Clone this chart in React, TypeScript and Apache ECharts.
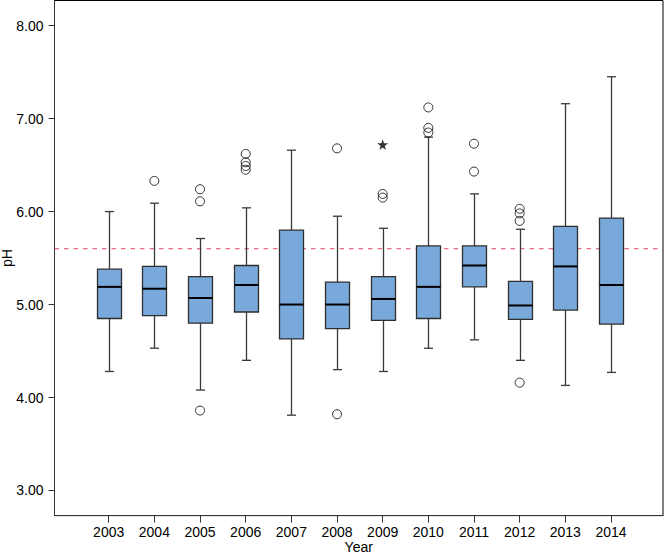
import React, { useEffect, useRef } from "react";
import * as echarts from "echarts";

// ---- data ----
const years = [2003, 2004, 2005, 2006, 2007, 2008, 2009, 2010, 2011, 2012, 2013, 2014];
const mins = [4.28, 4.53, 4.08, 4.40, 3.81, 4.30, 4.28, 4.53, 4.62, 4.40, 4.13, 4.27];
const q1s = [4.85, 4.88, 4.80, 4.92, 4.63, 4.74, 4.83, 4.85, 5.19, 4.84, 4.94, 4.79];
const medians = [5.19, 5.17, 5.07, 5.21, 5.00, 5.00, 5.06, 5.19, 5.42, 4.99, 5.41, 5.21];
const q3s = [5.38, 5.41, 5.30, 5.42, 5.80, 5.24, 5.30, 5.63, 5.63, 5.25, 5.84, 5.93];
const maxs = [6.00, 6.09, 5.71, 6.04, 6.66, 5.95, 5.82, 6.80, 6.19, 5.81, 7.16, 7.45];
const outliers: [number, number][] = [
  [2004, 6.33],
  [2005, 6.24], [2005, 6.11], [2005, 3.86],
  [2006, 6.62], [2006, 6.53], [2006, 6.49], [2006, 6.45],
  [2008, 6.68], [2008, 3.82],
  [2009, 6.19], [2009, 6.15],
  [2010, 7.12], [2010, 6.90], [2010, 6.85],
  [2011, 6.73], [2011, 6.43],
  [2012, 6.03], [2012, 5.98], [2012, 5.90], [2012, 4.16],
];
const extremes: [number, number][] = [[2009, 6.72]];
const referenceLevel = 5.6;
const yTicks = [3, 4, 5, 6, 7, 8];
const X_MIN = 2001.813;
const X_MAX = 2015.139;

const STAR = "path://M50,0 L61,35 L98,35 L68,57 L79,91 L50,70 L21,91 L32,57 L2,35 L39,35 Z";

export default function App() {
  const ref = useRef<HTMLDivElement>(null);
  useEffect(() => {
    document.body.style.margin = "0";
    const chart = echarts.init(ref.current!, null, { renderer: "svg" });
    const boxData = years.map((y, i) => [y, mins[i], q1s[i], medians[i], q3s[i], maxs[i]]);
    const font = "Liberation Sans";
    chart.setOption({
      animation: false,
      textStyle: { fontFamily: font, color: "#000" },
      grid: {
        left: 54.5,
        right: 1,
        top: 0.5,
        bottom: 42.4,
        containLabel: false,
        outerBoundsMode: "none",
        show: true,
        borderColor: "#000",
        borderWidth: 1,
        backgroundColor: "#fff",
      },
      xAxis: {
        type: "value",
        min: X_MIN,
        max: X_MAX,
        name: "Year",
        nameLocation: "middle",
        nameGap: 24,
        nameMoveOverlap: false,
        nameTextStyle: { fontSize: 14, color: "#000", fontFamily: font },
        splitLine: { show: false },
        axisLine: { show: true, lineStyle: { color: "#333", width: 1 } },
        axisTick: { show: true, length: 7, customValues: years, lineStyle: { color: "#333" } },
        axisLabel: {
          customValues: years,
          formatter: (v: number) => String(v),
          fontSize: 14,
          color: "#000",
          margin: 9,
          fontFamily: font,
        },
      },
      yAxis: {
        type: "value",
        min: 2.73,
        max: 8.27,
        name: "pH",
        nameLocation: "middle",
        nameGap: 41,
        nameMoveOverlap: false,
        nameRotate: 90,
        nameTextStyle: { fontSize: 14, color: "#000", fontFamily: font },
        splitLine: { show: false },
        axisLine: { show: true, lineStyle: { color: "#333", width: 1 } },
        axisTick: { show: true, length: 6, customValues: yTicks, lineStyle: { color: "#333" } },
        axisLabel: {
          customValues: yTicks,
          formatter: (v: number) => v.toFixed(2),
          fontSize: 14,
          color: "#000",
          margin: 11,
          fontFamily: font,
        },
      },
      series: [
        {
          type: "line",
          data: [[X_MIN, referenceLevel], [X_MAX, referenceLevel]],
          symbol: "none",
          silent: true,
          lineStyle: { type: [4.5, 5], color: "#e0475c", width: 1.2 },
          z: 1,
        },
        {
          type: "custom",
          data: boxData,
          encode: { x: 0, y: [1, 2, 3, 4, 5] },
          renderItem: (params: any, api: any) => {
            const x = api.value(0);
            const lo = api.coord([x, api.value(1)]);
            const q1 = api.coord([x, api.value(2)]);
            const md = api.coord([x, api.value(3)]);
            const q3 = api.coord([x, api.value(4)]);
            const hi = api.coord([x, api.value(5)]);
            const cx = Math.round(lo[0]) + 0.5;
            const bw = 24;
            const cw = 9;
            const stroke = "#3a3a3a";
            return {
              type: "group",
              children: [
                { type: "line", shape: { x1: cx, y1: hi[1], x2: cx, y2: q3[1] }, style: { stroke, lineWidth: 1.3 } },
                { type: "line", shape: { x1: cx, y1: q1[1], x2: cx, y2: lo[1] }, style: { stroke, lineWidth: 1.3 } },
                { type: "line", shape: { x1: cx - cw / 2, y1: hi[1], x2: cx + cw / 2, y2: hi[1] }, style: { stroke, lineWidth: 1.3 } },
                { type: "line", shape: { x1: cx - cw / 2, y1: lo[1], x2: cx + cw / 2, y2: lo[1] }, style: { stroke, lineWidth: 1.3 } },
                {
                  type: "rect",
                  shape: { x: cx - bw / 2, y: q3[1], width: bw, height: q1[1] - q3[1] },
                  style: { fill: "#79a8da", stroke: "#2e2e2e", lineWidth: 1.3 },
                },
                { type: "line", shape: { x1: cx - bw / 2, y1: md[1], x2: cx + bw / 2, y2: md[1] }, style: { stroke: "#000", lineWidth: 2 } },
              ],
            };
          },
          z: 2,
        },
        {
          type: "scatter",
          data: outliers,
          symbol: "circle",
          symbolSize: 9,
          itemStyle: { color: "rgba(0,0,0,0)", borderColor: "#000", borderWidth: 1 },
          z: 3,
        },
        {
          type: "scatter",
          data: extremes,
          symbol: STAR,
          symbolSize: 11,
          itemStyle: { color: "#000" },
          z: 3,
        },
      ],
    });
    return () => chart.dispose();
  }, []);
  return <div ref={ref} style={{ width: 664, height: 558 }} />;
}
